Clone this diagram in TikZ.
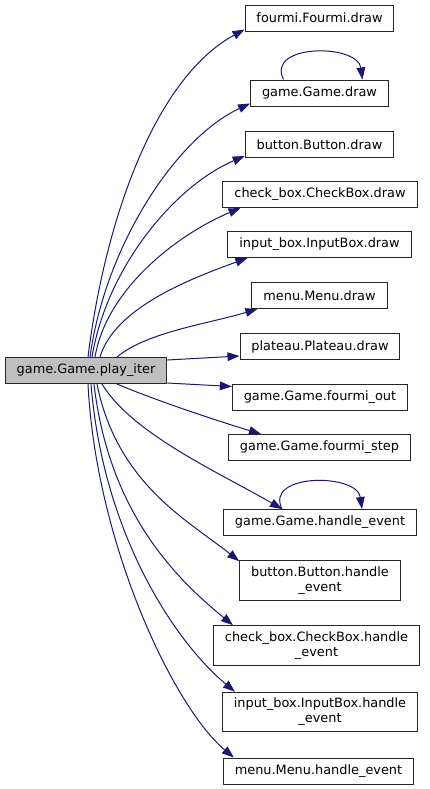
\documentclass[tikz,border=0pt]{standalone}
\usepackage{fontspec}
\setmainfont{DejaVu Sans}
\usepackage{xcolor}
\usepackage{tikz}
\usetikzlibrary{arrows.meta,calc}

\definecolor{edgeblue}{RGB}{25,25,112}

\begin{document}
\begin{tikzpicture}[
    x=0.75pt, y=-0.75pt,
    every node/.style={font=\fontsize{9.66pt}{11.3pt}\selectfont,align=center},
    box/.style={
        draw=black!85,
        line width=0.75pt,
        minimum height=19.5pt,
        inner xsep=8.6pt,
        inner ysep=4.4pt
    },
    caller/.style={
        box,
        fill=black!25
    },
    arrow/.style={-{Triangle[length=9pt,width=6.5pt]},draw=edgeblue,line width=0.75pt}
]
\useasboundingbox (0,0) rectangle (429,789);

% Caller
\node[caller] (play) at (86,370.5) {game.Game.play\_iter};

% Called functions
\node[box] (fourmidraw) at (319.5,18) {fourmi.Fourmi.draw};
\node[box] (gamedraw) at (319.5,93) {game.Game.draw};
\node[box] (buttondraw) at (319.5,144.5) {button.Button.draw};
\node[box] (checkdraw) at (320,194.5) {check\_box.CheckBox.draw};
\node[box] (inputdraw) at (319.5,244.5) {input\_box.InputBox.draw};
\node[box] (menudraw) at (319.5,295.5) {menu.Menu.draw};
\node[box] (plateaudraw) at (320,346.5) {plateau.Plateau.draw};
\node[box] (fourmiout) at (320,397) {game.Game.fourmi\_out};
\node[box] (fourmistep) at (319.5,447.5) {game.Game.fourmi\_step};
\node[box] (gameevent) at (320,522.5) {game.Game.handle\_event};
\node[box] (buttonevent) at (320,580.5) {button.Button.handle\\\_event};
\node[box] (checkevent) at (316.5,645.5) {check\_box.CheckBox.handle\\\_event};
\node[box] (inputevent) at (320,712) {input\_box.InputBox.handle\\\_event};
\node[box] (menuevent) at (318.5,771) {menu.Menu.handle\_event};

% Calls going up
\draw[arrow] ($(play.north)+(2,0)$) .. controls +(16,-130) and +(-92,50) .. ($(fourmidraw.south west)+(0,-2)$);
\draw[arrow] ($(play.north)+(4,0)$) .. controls +(15,-110) and +(-75,35) .. ($(gamedraw.south west)+(0,-3)$);
\draw[arrow] ($(play.north)+(6,0)$) .. controls +(15,-90) and +(-70,30) .. ($(buttondraw.south west)+(0,-2)$);
\draw[arrow] ($(play.north)+(9,0)$) .. controls +(12,-70) and +(-60,25) .. ($(checkdraw.south west)+(18,0)$);
\draw[arrow] ($(play.north)+(14,0)$) .. controls +(15,-50) and +(-55,20) .. ($(inputdraw.south west)+(20,0)$);
\draw[arrow] ($(play.north)+(31,0)$) .. controls +(30,-25) and +(-50,15) .. ($(menudraw.south west)+(6,0)$);
\draw[arrow] ($(play.north east)+(0,3)$) -- ($(plateaudraw.south west)+(0,-4)$);

% Calls going down
\draw[arrow] ($(play.south east)+(0,-1)$) -- ($(fourmiout.north west)+(0,3)$);
\draw[arrow] ($(play.south)+(31,0)$) .. controls +(40,17) and +(-40,-12) .. ($(fourmistep.north west)+(33,0)$);
\draw[arrow] ($(play.south)+(16,0)$) .. controls +(30,50) and +(-60,-35) .. ($(gameevent.north)+(-38,0)$);
\draw[arrow] ($(play.south)+(11,0)$) .. controls +(20,100) and +(-50,-40) .. ($(buttonevent.north west)+(0,1)$);
\draw[arrow] ($(play.south)+(8,0)$) .. controls +(15,130) and +(-55,-45) .. ($(checkevent.north west)+(20,0)$);
\draw[arrow] ($(play.south)+(5,0)$) .. controls +(12,150) and +(-60,-50) .. ($(inputevent.north west)+(13,0)$);
\draw[arrow] ($(play.south)+(2,0)$) .. controls +(8,160) and +(-60,-50) .. ($(menuevent.north west)+(11,0)$);

% Recursive calls
\draw[arrow] ($(gamedraw.north)+(-36,0)$) .. controls +(-18,-36) and +(-5,-36) .. ($(gamedraw.north)+(43,0)$);
\draw[arrow] ($(gameevent.north)+(-38,0)$) .. controls +(-18,-36) and +(-5,-36) .. ($(gameevent.north)+(42,0)$);

\end{tikzpicture}
\end{document}
